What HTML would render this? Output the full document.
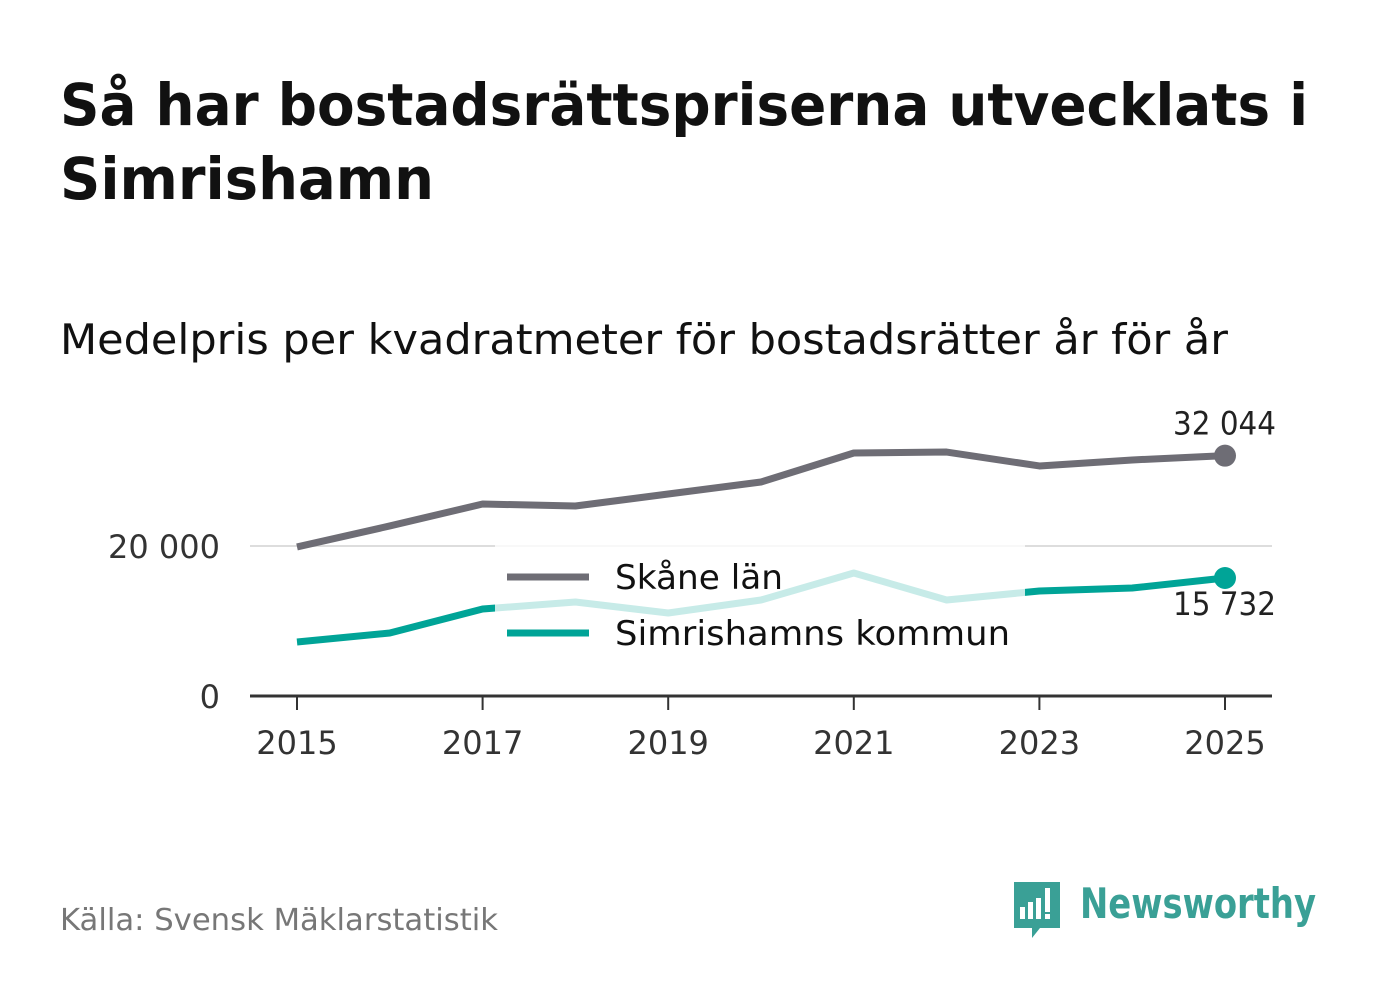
<!DOCTYPE html>
<html><head><meta charset="utf-8"><style>
body{margin:0;background:#fff;width:1382px;height:999px;overflow:hidden;font-family:"DejaVu Sans","Liberation Sans",sans-serif;}
</style></head><body>
<svg width="1382" height="999" xmlns="http://www.w3.org/2000/svg">
<text x="60" y="125" font-size="58" font-weight="bold" fill="#111" textLength="1248" lengthAdjust="spacingAndGlyphs">Så har bostadsrättspriserna utvecklats i</text>
<text x="60" y="199" font-size="58" font-weight="bold" fill="#111" textLength="374" lengthAdjust="spacingAndGlyphs">Simrishamn</text>
<text x="60" y="354" font-size="42" fill="#111" textLength="1168" lengthAdjust="spacingAndGlyphs">Medelpris per kvadratmeter för bostadsrätter år för år</text>
<g id="plot"></g>
<text x="60" y="930" font-size="30" fill="#777" textLength="438" lengthAdjust="spacingAndGlyphs">Källa: Svensk Mäklarstatistik</text>
<g>
<path d="M1014 882h46v46h-20l-8 10v-10h-18z" fill="#3aa096"/>
<rect x="1020" y="907" width="5" height="12" fill="#fff"/><rect x="1028" y="902" width="5" height="17" fill="#fff"/><rect x="1036" y="898" width="5" height="21" fill="#fff"/><rect x="1045" y="888" width="5" height="24" fill="#fff"/><rect x="1045" y="914" width="5" height="5" fill="#fff"/>
<text x="1080" y="918" font-size="42" font-weight="bold" fill="#3aa096" textLength="236" lengthAdjust="spacingAndGlyphs">Newsworthy</text>
</g>
</svg>
<script>
const years=[2015,2016,2017,2018,2019,2020,2021,2022,2023,2024,2025];
const skane=[19870,22670,25600,25330,26930,28530,32400,32530,30670,31470,32044];
const simris=[7200,8400,11600,12530,11070,12800,16400,12800,14000,14400,15732];
const yTicks=[0,20000];
const yTickLabels=["0","20 000"];
const xTicks=[2015,2017,2019,2021,2023,2025];
const NS="http://www.w3.org/2000/svg";
const X=y=>297+(y-2015)*92.8;
const Y=v=>696-v*0.0075;
const g=document.getElementById('plot');
function mk(t,a,p){const e=document.createElementNS(NS,t);for(const k in a)e.setAttribute(k,a[k]);(p||g).appendChild(e);return e;}
yTicks.forEach((v,i)=>{
 if(v>0){const l=mk('line',{x1:250,x2:1272,y1:Y(v),y2:Y(v),stroke:'#ddd','stroke-width':2});
 
 }
 const t=mk('text',{x:220,y:Y(v)+12,'font-size':32,fill:'#333','text-anchor':'end'});t.textContent=yTickLabels[i];
 
 
});
const ax=mk('line',{x1:250,x2:1272,y1:696,y2:696,stroke:'#333','stroke-width':3});


xTicks.forEach(yr=>{
 mk('line',{x1:X(yr),x2:X(yr),y1:696,y2:710,stroke:'#333','stroke-width':2});
 const t=mk('text',{x:X(yr),y:754,'font-size':32,fill:'#333','text-anchor':'middle'});t.textContent=yr;
 
 
});
function line(vals,col,name){
 const p=mk('polyline',{points:vals.map((v,i)=>X(years[i])+','+Y(v)).join(' '),fill:'none',stroke:col,'stroke-width':7,'stroke-linejoin':'round'});
 
 
 const n=vals.length-1;
 const c=mk('circle',{cx:X(years[n]),cy:Y(vals[n]),r:11,fill:col});
 
 
}
line(skane,'#6e6d75','skane-line');
line(simris,'#00a497','simrishamn-line');
const fmt=v=>String(v).replace(/\B(?=(\d{3})+$)/g,' ');
let t=mk('text',{x:1276,y:Y(skane[10])-21,'font-size':32,fill:'#222','text-anchor':'end',textLength:103,lengthAdjust:'spacingAndGlyphs'});t.textContent=fmt(skane[10]);


t=mk('text',{x:1276,y:Y(simris[10])+37,'font-size':32,fill:'#222','text-anchor':'end',textLength:103,lengthAdjust:'spacingAndGlyphs'});t.textContent=fmt(simris[10]);


const lg=mk('g',{});


mk('rect',{x:495,y:542,width:530,height:118,fill:'#fff','fill-opacity':0.78},lg);
mk('line',{x1:507,x2:589,y1:577,y2:577,stroke:'#6e6d75','stroke-width':7},lg);
mk('line',{x1:507,x2:589,y1:633,y2:633,stroke:'#00a497','stroke-width':7},lg);
t=mk('text',{x:615,y:589,'font-size':34,fill:'#111',textLength:168,lengthAdjust:'spacingAndGlyphs'},lg);t.textContent='Skåne län';


t=mk('text',{x:615,y:645,'font-size':34,fill:'#111',textLength:395,lengthAdjust:'spacingAndGlyphs'},lg);t.textContent='Simrishamns kommun';


</script>
</body></html>
